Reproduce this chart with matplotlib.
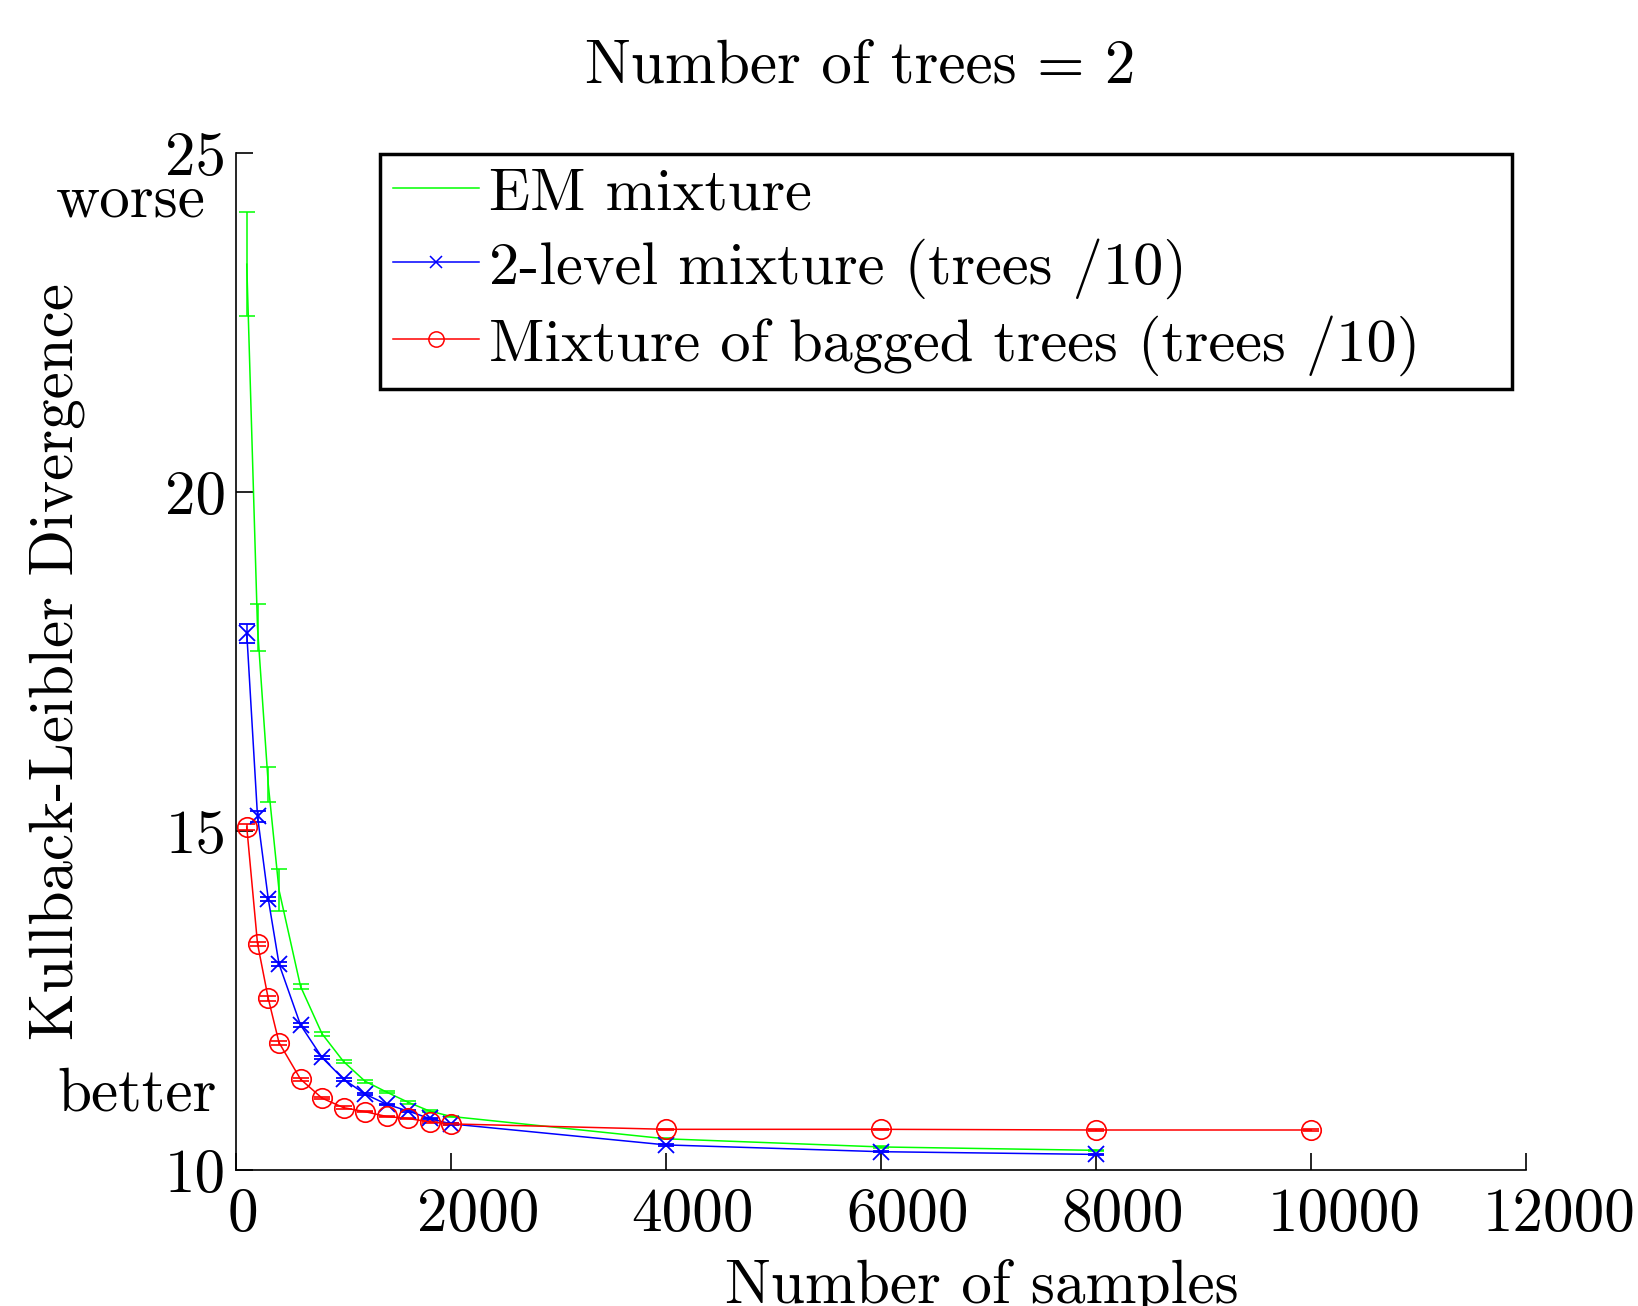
import matplotlib
matplotlib.use("Agg")
import matplotlib.pyplot as plt
from matplotlib.lines import Line2D
from matplotlib.transforms import ScaledTranslation

plt.rcParams['font.family'] = ['cmr10', 'DejaVu Serif']
plt.rcParams['axes.formatter.use_mathtext'] = True
plt.rcParams['mathtext.fontset'] = 'cm'

# ---- data ----
samples_short = [100, 200, 300, 400, 600, 800, 1000, 1200, 1400, 1600, 1800, 2000, 4000, 6000, 8000]
samples_long = [100, 200, 300, 400, 600, 800, 1000, 1200, 1400, 1600, 1800, 2000, 4000, 6000, 8000, 10000]

em_kl = [23.36, 18.00, 15.69, 14.13, 12.71, 12.01, 11.60, 11.31, 11.15, 11.00, 10.87, 10.79, 10.46, 10.34, 10.29]
em_err = [0.77, 0.35, 0.26, 0.31, 0.04, 0.03, 0.02, 0.02, 0.02, 0.02, 0.01, 0.01, 0.01, 0.01, 0.01]

twolevel_kl = [17.92, 15.22, 14.00, 13.04, 12.14, 11.66, 11.34, 11.12, 10.97, 10.87, 10.76, 10.68, 10.37, 10.27, 10.23]
twolevel_err = [0.14, 0.08, 0.03, 0.03, 0.03, 0.02, 0.02, 0.02, 0.01, 0.01, 0.01, 0.01, 0.01, 0.01, 0.01]

bagged_kl = [15.06, 13.34, 12.53, 11.88, 11.34, 11.06, 10.92, 10.86, 10.79, 10.76, 10.71, 10.68, 10.60, 10.60, 10.59, 10.59]
bagged_err = [0.04, 0.03, 0.03, 0.03, 0.02, 0.02, 0.02, 0.01, 0.01, 0.01, 0.01, 0.01, 0.01, 0.01, 0.01, 0.01]

labels = ["EM mixture", "2-level mixture (trees /10)", "Mixture of bagged trees (trees /10)"]
xticks = [0, 2000, 4000, 6000, 8000, 10000, 12000]
yticks = [10, 15, 20, 25]

GREEN, BLUE, RED = '#00ff00', '#0000ff', '#ff0000'

W, H = 1638, 1306
fig = plt.figure(figsize=(W / 100, H / 100), dpi=100)
ax = fig.add_axes([236 / W, 1 - 1170 / H, (1526 - 236) / W, (1170 - 153) / H])

lw = 1.1
cap = 6
ax.errorbar(samples_short, em_kl, yerr=em_err, color=GREEN, lw=lw, elinewidth=lw,
            capsize=cap, capthick=lw)
ax.errorbar(samples_short, twolevel_kl, yerr=twolevel_err, color=BLUE, lw=lw, elinewidth=lw,
            capsize=cap, capthick=lw, marker='x', markersize=11, markeredgewidth=1.3)
ax.errorbar(samples_long, bagged_kl, yerr=bagged_err, color=RED, lw=lw, elinewidth=lw,
            capsize=cap, capthick=lw, marker='o', markersize=14, markerfacecolor='none',
            markeredgewidth=1.2)

ax.set_xlim(0, 12000)
ax.set_ylim(10, 25)
ax.set_xticks(xticks)
ax.set_yticks(yticks)
ax.set_xticklabels([str(t) for t in xticks])
ax.set_yticklabels([str(t) for t in yticks])
for s in ['top', 'right']:
    ax.spines[s].set_visible(False)
for s in ['left', 'bottom']:
    ax.spines[s].set_linewidth(1.2)
ax.tick_params(direction='in', length=12, width=1.2, labelsize=44)
ax.tick_params(axis='x', pad=13)
ax.tick_params(axis='y', pad=7)

ax.set_title("Number of trees = 2", fontsize=44, pad=51, x=0.484)
ax.set_ylabel("Kullback-Leibler Divergence", fontsize=44)
ax.yaxis.set_label_coords(-0.117, 0.5)
fig.text(982 / W, 1 - 1303 / H, "Number of samples", fontsize=44, ha='center', va='baseline')

fig.text(131 / W, 1 - 201 / H, "worse", fontsize=44, ha='center', va='center')
fig.text(137 / W, 1 - 1095 / H, "better", fontsize=44, ha='center', va='center')

handles = [Line2D([], [], color=GREEN, lw=lw),
           Line2D([], [], color=BLUE, lw=lw, marker='x', markersize=8, markeredgewidth=1.1),
           Line2D([], [], color=RED, lw=lw, marker='o', markersize=11, markerfacecolor='none',
                  markeredgewidth=1.1)]
leg = ax.legend(handles, labels, loc='upper left', bbox_to_anchor=(0.1116, 0.0, 0.8775, 0.999),
                mode='expand', fontsize=43.5, frameon=True, fancybox=False, edgecolor='black',
                framealpha=1, handlelength=1.42, handletextpad=0.17, borderpad=0.22,
                labelspacing=0.27, borderaxespad=0)
leg.get_frame().set_linewidth(2.5)

# shift x tick labels as in the reference rendering
fig.canvas.draw()
for tick in ax.xaxis.get_major_ticks():
    lbl = tick.label1
    w = lbl.get_window_extent().width
    lbl.set_transform(lbl.get_transform() + ScaledTranslation(0.22 * w / 100, 0, fig.dpi_scale_trans))

fig.savefig("out.png", dpi=100)
